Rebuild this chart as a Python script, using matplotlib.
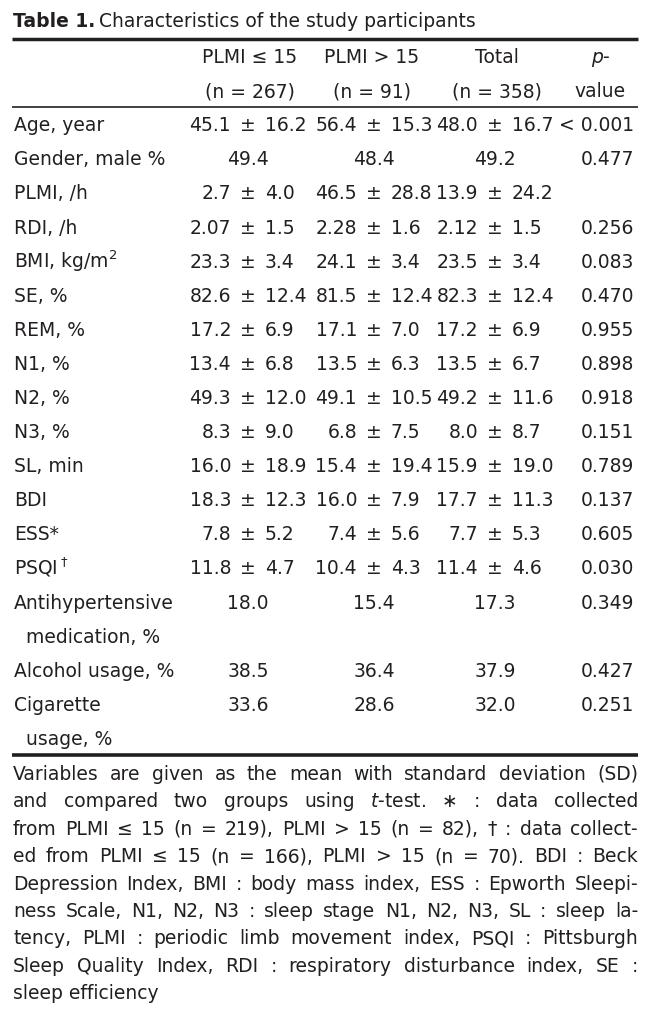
import matplotlib.pyplot as plt
from matplotlib.font_manager import FontProperties

plt.rcParams['font.family'] = 'DejaVu Sans'
plt.rcParams['mathtext.fontset'] = 'dejavusans'

# table content
col_heads = ['PLMI \u2264 15', 'PLMI > 15', 'Total']
col_ns = ['(n = 267)', '(n = 91)', '(n = 358)']

labels = ['Age, year', 'Gender, male %', 'PLMI, /h', 'RDI, /h', 'BMI, kg/m$^2$',
          'SE, %', 'REM, %', 'N1, %', 'N2, %', 'N3, %', 'SL, min', 'BDI', 'ESS*',
          'PSQI$^\\dagger$', 'Antihypertensive\nmedication, %', 'Alcohol usage, %',
          'Cigarette\nusage, %']

low_mean = ['45.1', '49.4', '2.7', '2.07', '23.3', '82.6', '17.2', '13.4', '49.3', '8.3',
            '16.0', '18.3', '7.8', '11.8', '18.0', '38.5', '33.6']
low_sd = ['16.2', None, '4.0', '1.5', '3.4', '12.4', '6.9', '6.8', '12.0', '9.0',
          '18.9', '12.3', '5.2', '4.7', None, None, None]
high_mean = ['56.4', '48.4', '46.5', '2.28', '24.1', '81.5', '17.1', '13.5', '49.1', '6.8',
             '15.4', '16.0', '7.4', '10.4', '15.4', '36.4', '28.6']
high_sd = ['15.3', None, '28.8', '1.6', '3.4', '12.4', '7.0', '6.3', '10.5', '7.5',
           '19.4', '7.9', '5.6', '4.3', None, None, None]
total_mean = ['48.0', '49.2', '13.9', '2.12', '23.5', '82.3', '17.2', '13.5', '49.2', '8.0',
              '15.9', '17.7', '7.7', '11.4', '17.3', '37.9', '32.0']
total_sd = ['16.7', None, '24.2', '1.5', '3.4', '12.4', '6.9', '6.7', '11.6', '8.7',
            '19.0', '11.3', '5.3', '4.6', None, None, None]
p_values = ['< 0.001', '0.477', '', '0.256', '0.083', '0.470', '0.955', '0.898', '0.918',
            '0.151', '0.789', '0.137', '0.605', '0.030', '0.349', '0.427', '0.251']

footnote = [
    'Variables are given as the mean with standard deviation (SD)',
    'and compared two groups using $t$-test. \u2217 : data collected',
    'from PLMI \u2264 15 (n = 219), PLMI > 15 (n = 82), \u2020 : data collect-',
    'ed from PLMI \u2264 15 (n = 166), PLMI > 15 (n = 70). BDI : Beck',
    'Depression Index, BMI : body mass index, ESS : Epworth Sleepi-',
    'ness Scale, N1, N2, N3 : sleep stage N1, N2, N3, SL : sleep la-',
    'tency, PLMI : periodic limb movement index, PSQI : Pittsburgh',
    'Sleep Quality Index, RDI : respiratory disturbance index, SE :',
    'sleep efficiency',
]

W, H = 654, 1016
fig = plt.figure(figsize=(W / 100, H / 100), dpi=100)
ax = fig.add_axes([0, 0, 1, 1])
ax.set_xlim(0, W)
ax.set_ylim(H, 0)
ax.axis('off')
r = fig.canvas.get_renderer()

fs = 13.5
ink = '#231f20'
x_left, x_right = 12, 638

# title
t1 = ax.text(13, 27, 'Table 1.', fontsize=fs, fontweight='bold', color=ink, va='baseline')
tw = t1.get_window_extent(r).width
ax.text(13 + tw + 4, 27, 'Characteristics of the study participants', fontsize=fs,
        color=ink, va='baseline')

# rules
ax.plot([x_left, x_right], [39, 39], color=ink, lw=2.5, solid_capstyle='butt')
ax.plot([x_left, x_right], [107, 107], color=ink, lw=1.2, solid_capstyle='butt')
ax.plot([x_left, x_right], [755, 755], color=ink, lw=2.6, solid_capstyle='butt')

base0, step = 63, 34.1
pm_x = [248, 374, 495]
head_x = [250, 372, 497]
p_right = 634
p_head_x = 600

for cx, h, n in zip(head_x, col_heads, col_ns):
    ax.text(cx, base0, h, fontsize=fs, color=ink, ha='center', va='baseline')
    ax.text(cx, base0 + step, n, fontsize=fs, color=ink, ha='center', va='baseline')
ax.text(p_head_x, base0, 'p-', fontsize=fs, color=ink, ha='center', va='baseline',
        style='italic')
ax.text(p_head_x, base0 + step, 'value', fontsize=fs, color=ink, ha='center', va='baseline')

gap = 17
slot = 2
cols = [(low_mean, low_sd), (high_mean, high_sd), (total_mean, total_sd)]
for i, lab in enumerate(labels):
    y = base0 + slot * step
    parts = lab.split('\n')
    for j, part in enumerate(parts):
        ax.text(14 + (12 if j else 0), y + j * step, part, fontsize=fs, color=ink,
                ha='left', va='baseline')
    for cx, (means, sds) in zip(pm_x, cols):
        if sds[i] is None:
            ax.text(cx, y, means[i], fontsize=fs, color=ink, ha='center', va='baseline')
        else:
            ax.text(cx - gap, y, means[i], fontsize=fs, color=ink, ha='right', va='baseline')
            ax.text(cx, y, '\u00b1', fontsize=fs, color=ink, ha='center', va='baseline')
            ax.text(cx + gap, y, sds[i], fontsize=fs, color=ink, ha='left', va='baseline')
    if p_values[i]:
        ax.text(p_right, y, p_values[i], fontsize=fs, color=ink, ha='right', va='baseline')
    slot += len(parts)

# justified footnote
fn_fs = 13.5
fn_base, fn_step = 780, 27.4


def word_width(word, size):
    prop = FontProperties(family='DejaVu Sans', size=size)
    w, _, _ = r.get_text_width_height_descent(word, prop, ismath=('$' in word))
    return w


avail = x_right - x_left - 1
while True:
    ok = True
    for line in footnote[:-1]:
        words = line.split(' ')
        total = sum(word_width(w, fn_fs) for w in words)
        if (avail - total) / (len(words) - 1) < 2.5:
            ok = False
            break
    if ok:
        break
    fn_fs -= 0.25

for k, line in enumerate(footnote):
    y = fn_base + k * fn_step
    if k == len(footnote) - 1:
        ax.text(x_left + 1, y, line, fontsize=fn_fs, color=ink, ha='left', va='baseline')
        continue
    words = line.split(' ')
    widths = [word_width(w, fn_fs) for w in words]
    space = (avail - sum(widths)) / (len(words) - 1)
    x = x_left + 1
    for w, wd in zip(words, widths):
        ax.text(x, y, w, fontsize=fn_fs, color=ink, ha='left', va='baseline')
        x += wd + space

fig.savefig('out.png', dpi=100)
